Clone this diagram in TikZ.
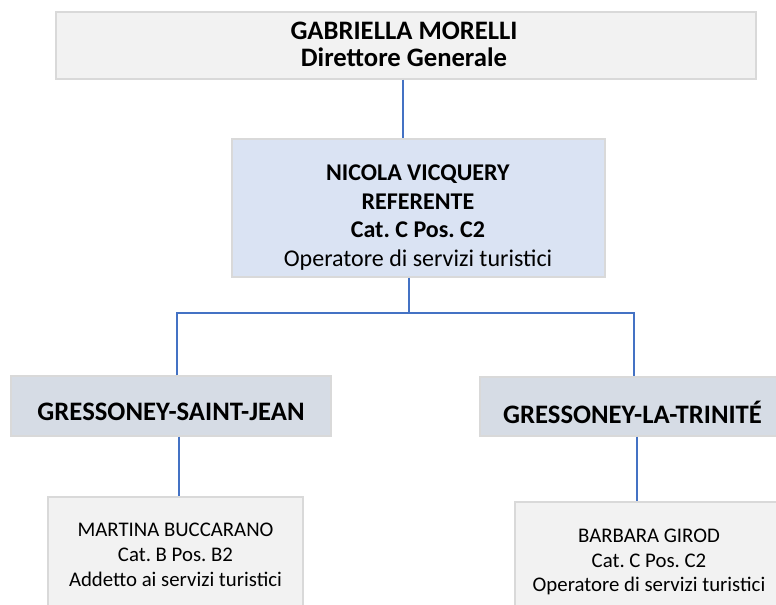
\documentclass[tikz,border=0pt]{standalone}
\usepackage{fontspec}
\setmainfont{Carlito}
\frenchspacing
\definecolor{boxgray}{HTML}{F2F2F2}
\definecolor{edgegray}{HTML}{D9D9D9}
\definecolor{refblue}{HTML}{DAE3F3}
\definecolor{areablue}{HTML}{D6DCE5}
\definecolor{linkblue}{HTML}{4472C4}
\begin{document}
\begin{tikzpicture}[x=0.75pt,y=-0.75pt,
  boxbase/.style={draw=edgegray,line width=1pt,inner sep=0pt,rectangle},
  graybox/.style={boxbase,fill=boxgray},
  refbox/.style={boxbase,fill=refblue},
  areabox/.style={boxbase,fill=areablue},
  label/.style={inner sep=0pt,align=center,text=black},
  link/.style={draw=linkblue,line width=1pt}]
\useasboundingbox (0,0) rectangle (776,605);
\clip (0,0) rectangle (776,605);
\fill[white] (0,0) rectangle (776,605);
% boxes
\node[graybox,minimum width=525pt,minimum height=50.25pt] (top) at (406,45.5) {};
\node[refbox,minimum width=279.75pt,minimum height=103.5pt] (nic) at (418.5,208) {};
\node[areabox,minimum width=240pt,minimum height=45pt] (gsj) at (171,406) {};
\node[areabox,minimum width=228.75pt,minimum height=44.25pt] (glt) at (632.5,406.5) {};
\node[graybox,minimum width=191.25pt,minimum height=114.75pt] (mb) at (175.5,573.5) {};
\node[graybox,minimum width=201pt,minimum height=114.75pt] (bg) at (649,578.5) {};
% texts
\node[label,font=\fontsize{20}{20.25}\selectfont\bfseries] (toptext) at (404,44.5) {GABRIELLA MORELLI\\Direttore Generale};
\node[label,font=\fontsize{18}{21.4}\selectfont] (nictext) at (418,217.5) {\textbf{NICOLA VICQUERY}\\\textbf{REFERENTE}\\\textbf{Cat. C Pos. C2}\\Operatore di servizi turistici};
\node[label,font=\fontsize{20}{21.4}\selectfont\bfseries] (gsjtext) at (171,412) {GRESSONEY-SAINT-JEAN};
\node[label,font=\fontsize{20}{21.4}\selectfont\bfseries] (glttext) at (632.5,412) {GRESSONEY-LA-TRINITÉ};
\node[label,font=\fontsize{15.6}{18.7}\selectfont] (mbtext) at (175.5,555) {MARTINA BUCCARANO\\Cat. B Pos. B2\\Addetto ai servizi turistici};
\node[label,font=\fontsize{15.6}{18.2}\selectfont] (bgtext) at (649,562) {BARBARA GIROD\\Cat. C Pos. C2\\Operatore di servizi turistici};
% connector anchors
\coordinate (t0) at (403,0);
\coordinate (bus) at (409,313);
\coordinate (bl) at (177,313);
\coordinate (br) at (634,313);
\coordinate (m1) at (179,0);
\coordinate (m2) at (637,0);
% connectors
\draw[link] (top.south -| t0) -- (nic.north -| t0);
\draw[link] (nic.south -| bus) -- (bus);
\draw[link] (gsj.north -| bl) -- (bl) -- (br) -- (glt.north -| br);
\draw[link] (gsj.south -| m1) -- (mb.north -| m1);
\draw[link] (glt.south -| m2) -- (bg.north -| m2);
\end{tikzpicture}
\end{document}
